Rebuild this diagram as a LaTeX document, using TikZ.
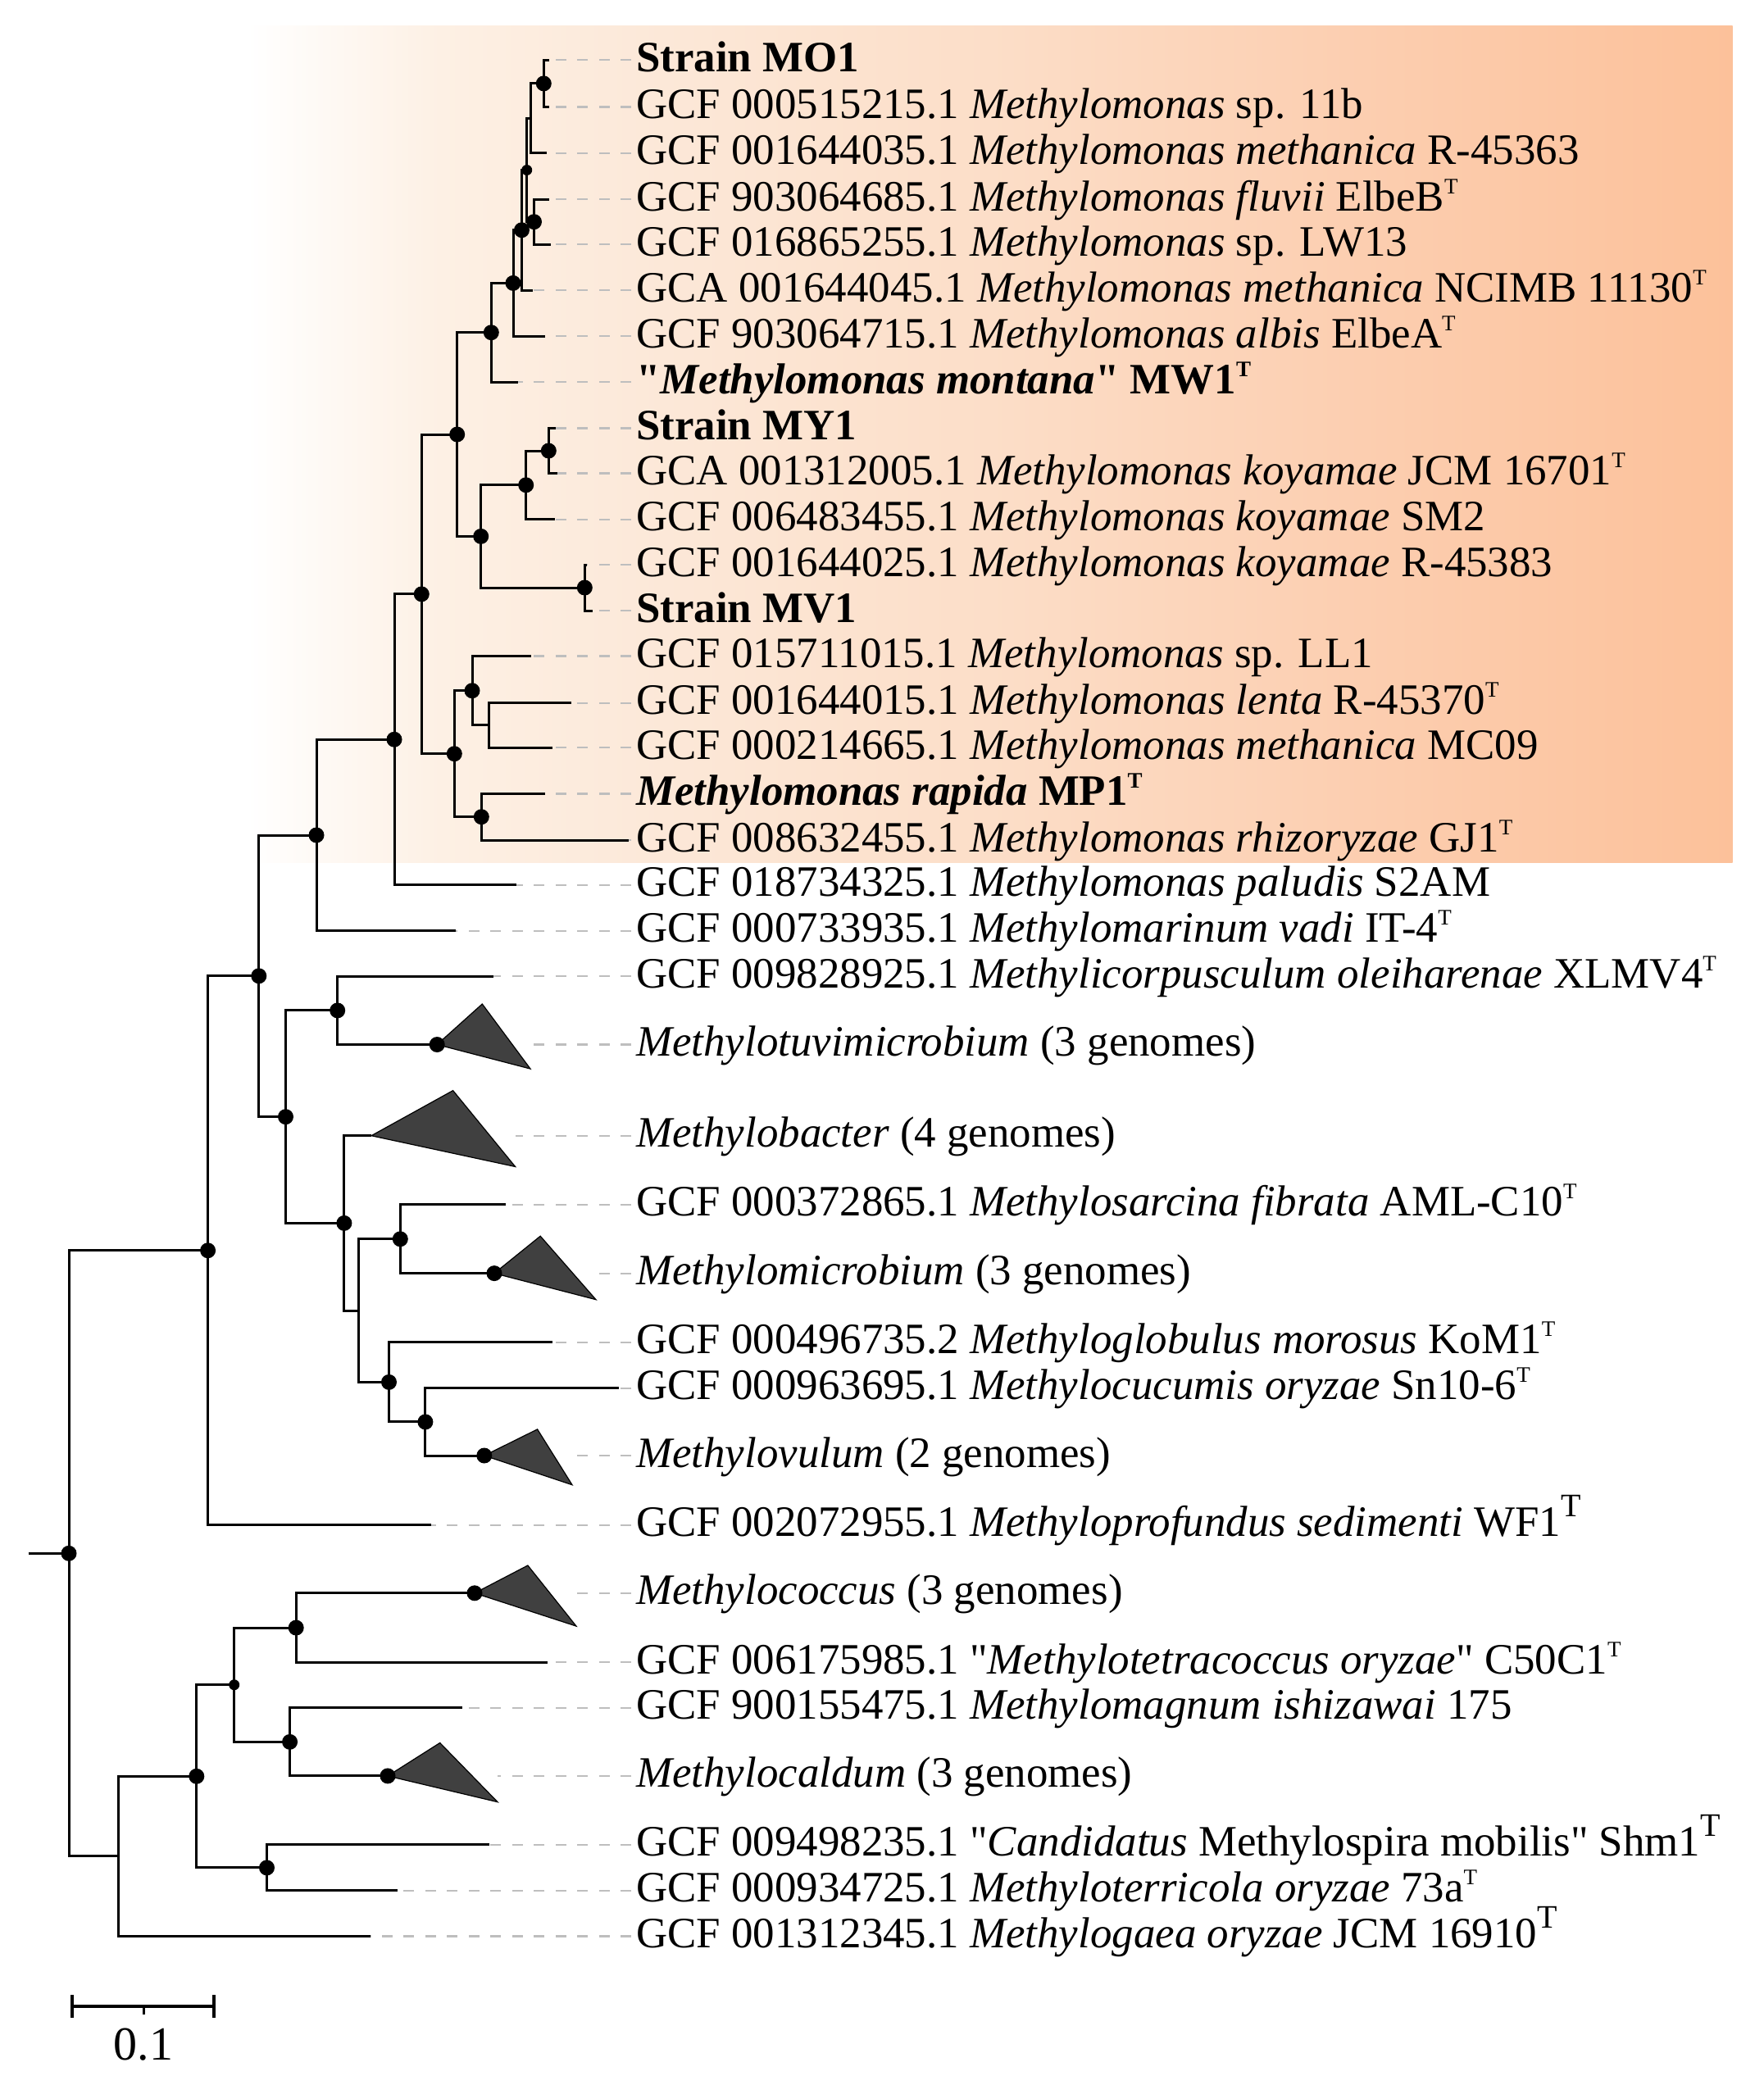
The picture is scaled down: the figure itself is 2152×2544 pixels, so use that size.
\documentclass[tikz,border=0pt]{standalone}
\usepackage{fontspec}
\setmainfont{Liberation Serif}[Ligatures=TeXOff]
\usetikzlibrary{calc}
\definecolor{pk1}{RGB}{253,240,228}
\definecolor{pk2}{RGB}{252,232,216}
\definecolor{pk3}{RGB}{252,222,200}
\definecolor{pk4}{RGB}{252,206,176}
\definecolor{pk5}{RGB}{252,193,154}
\definecolor{gguide}{RGB}{190,190,190}
\definecolor{cladegray}{RGB}{64,64,64}
\pgfdeclarehorizontalshading{peach}{100bp}{color(0bp)=(white); color(25bp)=(white); color(31.5bp)=(pk1); color(39bp)=(pk2); color(50bp)=(pk3); color(62.5bp)=(pk4); color(75bp)=(pk5); color(100bp)=(pk5)}
\newcommand\sT{\raisebox{21pt}{\fontsize{27}{27}\selectfont T}}
\newcommand\bT{\raisebox{24pt}{\fontsize{40}{40}\selectfont T}}
\newcommand\mkleaf[4]{%
  \coordinate (#1) at (#2,#3);
  \node[lab] (t#1) at (776,#3) {#4};
  \draw[guide] (#1 -| t#1.base west) -- (#1);
}
\tikzset{
  lab/.style={anchor=base west, inner sep=0pt, yshift=-14pt, font=\fontsize{52.9}{60}\selectfont},
  guide/.style={draw=gguide, line width=2.2pt, dash pattern=on 13pt off 13.5pt, shorten <=6pt},
  br/.style={draw=black, line width=3pt},
  clade/.style={fill=cladegray, draw=black, line width=1.2pt, line join=miter},
  sbar/.style={draw=black, line width=3.8pt}
}
\begin{document}
\begin{tikzpicture}[x=1pt,y=-1pt]
\useasboundingbox (0,0) rectangle (2152,2544);
\shade[shading=peach] (301.7,31) rectangle (2113.7,1052.7);

% ---------- leaves, labels and guide lines ----------
\mkleaf{lMOa}{670}{73.3}{\textbf{Strain MO1}}
\mkleaf{l11b}{670}{130.5}{GCF 000515215.1 \textit{Methylomonas} sp. 11b}
\mkleaf{l45363}{666.7}{186.7}{GCF 001644035.1 \textit{Methylomonas methanica} R-45363}
\mkleaf{lfluv}{670}{243}{GCF 903064685.1 \textit{Methylomonas fluvii} ElbeB\sT}
\mkleaf{llw}{671.7}{298.3}{GCF 016865255.1 \textit{Methylomonas} sp. LW13}
\mkleaf{lncimb}{650}{354}{GCA 001644045.1 \textit{Methylomonas methanica} NCIMB 11130\sT}
\mkleaf{lalb}{665}{410}{GCF 903064715.1 \textit{Methylomonas albis} ElbeA\sT}
\mkleaf{lmont}{632}{466}{\textbf{"\textit{Methylomonas montana}" MW1\sT}}
\mkleaf{lmy}{678.3}{522.5}{\textbf{Strain MY1}}
\mkleaf{ljcm}{680}{577.5}{GCA 001312005.1 \textit{Methylomonas koyamae} JCM 16701\sT}
\mkleaf{lsm}{676.7}{633.6}{GCF 006483455.1 \textit{Methylomonas koyamae} SM2}
\mkleaf{lrb}{716}{689}{GCF 001644025.1 \textit{Methylomonas koyamae} R-45383}
\mkleaf{lmv}{723.3}{745}{\textbf{Strain MV1}}
\mkleaf{lll}{648.3}{800.5}{GCF 015711015.1 \textit{Methylomonas} sp. LL1}
\mkleaf{llenta}{696.7}{857.7}{GCF 001644015.1 \textit{Methylomonas lenta} R-45370\sT}
\mkleaf{lmc}{674}{912}{GCF 000214665.1 \textit{Methylomonas methanica} MC09}
\mkleaf{lrap}{665}{968.4}{\textbf{\textit{Methylomonas rapida} MP1\sT}}
\mkleaf{lrhiz}{766.7}{1025}{GCF 008632455.1 \textit{Methylomonas rhizoryzae} GJ1\sT}
\mkleaf{lpal}{630}{1079.6}{GCF 018734325.1 \textit{Methylomonas paludis} S2AM}
\mkleaf{lvadi}{556}{1135.7}{GCF 000733935.1 \textit{Methylomarinum vadi} IT-4\sT}
\mkleaf{lxlmv}{602}{1191.3}{GCF 009828925.1 \textit{Methylicorpusculum oleiharenae} XLMV4\sT}
\mkleaf{ltuv}{647}{1274.5}{\textit{Methylotuvimicrobium} (3 genomes)}
\mkleaf{lbac}{628.6}{1385.7}{\textit{Methylobacter} (4 genomes)}
\mkleaf{lfib}{617.3}{1469.9}{GCF 000372865.1 \textit{Methylosarcina fibrata} AML-C10\sT}
\mkleaf{lmic}{727}{1553.6}{\textit{Methylomicrobium} (3 genomes)}
\mkleaf{lmor}{673.5}{1637.8}{GCF 000496735.2 \textit{Methyloglobulus morosus} KoM1\sT}
\mkleaf{lsn}{755}{1693.9}{GCF 000963695.1 \textit{Methylocucumis oryzae} Sn10-6\sT}
\mkleaf{lovu}{698}{1776}{\textit{Methylovulum} (2 genomes)}
\mkleaf{lsed}{525.5}{1860.7}{GCF 002072955.1 \textit{Methyloprofundus sedimenti} WF1\bT}
\mkleaf{lcoc}{703}{1943.8}{\textit{Methylococcus} (3 genomes)}
\mkleaf{lc50}{668.4}{2028.3}{GCF 006175985.1 "\textit{Methylotetracoccus oryzae}" C50C1\sT}
\mkleaf{lish}{563.8}{2083.8}{GCF 900155475.1 \textit{Methylomagnum ishizawai} 175}
\mkleaf{lcal}{607.1}{2166.9}{\textit{Methylocaldum} (3 genomes)}
\mkleaf{lshm}{596.9}{2250.9}{GCF 009498235.1 "\textit{Candidatus} Methylospira mobilis" Shm1\bT}
\mkleaf{l73a}{484.7}{2306.9}{GCF 000934725.1 \textit{Methyloterricola oryzae} 73a\sT}
\mkleaf{ljcmb}{451.5}{2362.4}{GCF 001312345.1 \textit{Methylogaea oryzae} JCM 16910\bT}

% ---------- internal nodes ----------
\coordinate (R0s) at (34.7,1895.3);
\coordinate (R0) at (84,1895.3);
\coordinate (F) at (253.6,1525.75);
\coordinate (G) at (315.8,1190.8);
\coordinate (H) at (386,1019);
\coordinate (J) at (481,902.25);
\coordinate (K) at (514.3,724.9);
\coordinate (L) at (557.7,530.05);
\coordinate (N) at (599.3,405.7);
\coordinate (V) at (626,345.4);
\coordinate (W) at (636.5,280.7);
\coordinate (X1) at (642.7,207.5);
\coordinate (NA) at (647.3,144.3);
\coordinate (MO) at (663.3,101.9);
\coordinate (FL) at (651.5,270.65);
\coordinate (O) at (586.7,654.4);
\coordinate (P) at (641.7,591.8);
\coordinate (R) at (669.3,550);
\coordinate (Q) at (713.3,717);
\coordinate (M) at (554.3,919.7);
\coordinate (S) at (576,842.7);
\coordinate (T) at (596.7,884.85);
\coordinate (U) at (587.3,996.7);
\coordinate (I) at (348.5,1362.65);
\coordinate (X) at (411.7,1232.9);
\coordinate (Y) at (419.9,1492.4);
\coordinate (YB) at (437.2,1599.1);
\coordinate (Z) at (488.3,1511.75);
\coordinate (AA) at (474.5,1686.4);
\coordinate (AB) at (518.9,1734.95);
\coordinate (LW) at (144.4,2264.85);
\coordinate (A) at (239.8,2167.3);
\coordinate (B) at (285.7,2055.7);
\coordinate (C) at (361.2,1986.05);
\coordinate (D) at (353.6,2125.35);
\coordinate (E) at (325.5,2278.9);
% collapsed clade apices
\coordinate (tuvA) at (533.2,1274.5);
\coordinate (bacA) at (453,1385.7);
\coordinate (micA) at (603,1553.6);
\coordinate (ovA) at (590.8,1776);
\coordinate (cocA) at (579,1943.8);
\coordinate (calA) at (473,2166.9);

% ---------- branches ----------
\begin{scope}[br]
\draw (R0s) -- (R0);
\draw (R0) |- (F); \draw (R0) |- (LW);
\draw (F) |- (G); \draw (F) |- (lsed);
\draw (G) |- (H); \draw (G) |- (I);
\draw (H) |- (J); \draw (H) |- (lvadi);
\draw (J) |- (K); \draw (J) |- (lpal);
\draw (K) |- (L); \draw (K) |- (M);
\draw (L) |- (N); \draw (L) |- (O);
\draw (N) |- (V); \draw (N) |- (lmont);
\draw (V) |- (W); \draw (V) |- (lalb);
\draw (W) |- (X1); \draw (W) |- (lncimb);
\draw (X1) |- (NA); \draw (X1) |- (FL);
\draw (NA) |- (MO); \draw (NA) |- (l45363);
\draw (MO) |- (lMOa); \draw (MO) |- (l11b);
\draw (FL) |- (lfluv); \draw (FL) |- (llw);
\draw (O) |- (P); \draw (O) |- (Q);
\draw (P) |- (R); \draw (P) |- (lsm);
\draw (R) |- (lmy); \draw (R) |- (ljcm);
\draw (Q) |- (lrb); \draw (Q) |- (lmv);
\draw (M) |- (S); \draw (M) |- (U);
\draw (S) |- (lll); \draw (S) |- (T);
\draw (T) |- (llenta); \draw (T) |- (lmc);
\draw (U) |- (lrap); \draw (U) |- (lrhiz);
\draw (I) |- (X); \draw (I) |- (Y);
\draw (X) |- (lxlmv); \draw (X) |- (tuvA);
\draw (Y) |- (bacA); \draw (Y) |- (YB);
\draw (YB) |- (Z); \draw (YB) |- (AA);
\draw (Z) |- (lfib); \draw (Z) |- (micA);
\draw (AA) |- (lmor); \draw (AA) |- (AB);
\draw (AB) |- (lsn); \draw (AB) |- (ovA);
\draw (LW) |- (A); \draw (LW) |- (ljcmb);
\draw (A) |- (B); \draw (A) |- (E);
\draw (B) |- (C); \draw (B) |- (D);
\draw (C) |- (cocA); \draw (C) |- (lc50);
\draw (D) |- (lish); \draw (D) |- (calA);
\draw (E) |- (lshm); \draw (E) |- (l73a);
\end{scope}

% ---------- collapsed clades ----------
\draw[clade] (tuvA) -- (588.3,1225) -- (647,1304.1) -- cycle;
\draw[clade] (bacA) -- (552.6,1330.6) -- (628.6,1423.5) -- cycle;
\draw[clade] (micA) -- (659.2,1508.2) -- (727,1585.7) -- cycle;
\draw[clade] (ovA) -- (655.6,1743.9) -- (698,1811.7) -- cycle;
\draw[clade] (cocA) -- (643.9,1910) -- (703,1984.1) -- cycle;
\draw[clade] (calA) -- (536.7,2126.5) -- (607.1,2198.7) -- cycle;

% ---------- support dots ----------
\foreach \n in {R0,F,G,H,J,K,L,M,N,O,P,Q,R,S,U,V,W,MO,FL,I,X,Y,Z,AA,AB,A,C,D,E,tuvA,micA,ovA,cocA,calA}
  \fill[black] (\n) circle[radius=9.5pt];
\foreach \n in {X1,B}
  \fill[black] (\n) circle[radius=6.5pt];

% ---------- scale bar ----------
\coordinate (sb1) at (88,2448);
\coordinate (sb2) at (261,2448);
\coordinate (sbm) at (175,2448);
\draw[sbar] (sb1) -- (sb2);
\draw[sbar, line width=3.4pt] (sb1) ++(0,-14) -- ++(0,28);
\draw[sbar, line width=3.4pt] (sb2) ++(0,-14) -- ++(0,28);
\draw[sbar, line width=3pt] (sbm) -- ++(0,10);
\node[font=\fontsize{58}{60}\selectfont, inner sep=0pt] (sbl) at (175,2495) {0.1};
\end{tikzpicture}
\end{document}
